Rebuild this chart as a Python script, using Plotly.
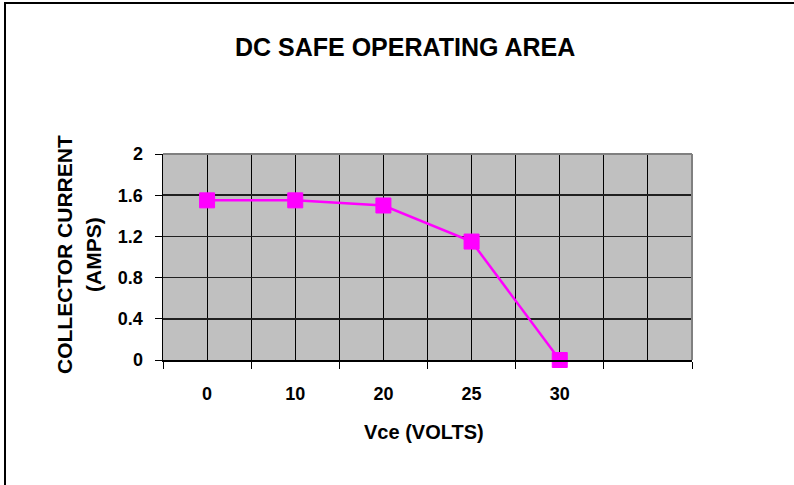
import plotly.graph_objects as go

categories = ["0", "10", "20", "25", "30"]
current = [1.55, 1.55, 1.5, 1.15, 0.0]
y_ticks = [0, 0.4, 0.8, 1.2, 1.6, 2]
y_tick_labels = ["0", "0.4", "0.8", "1.2", "1.6", "2"]
n_slots = 6  # category slots on the axis (last one empty)

FONT = "Liberation Sans, Arial, sans-serif"
W, H = 794, 485
L, T = 163, 154
R = W - 692
B = H - 360
pw, ph = W - L - R, H - T - B

def px(x):
    return (x - L) / pw

def py(y):
    return (H - B - y) / ph

idx = list(range(len(categories)))
fig = go.Figure()
fig.add_trace(go.Scatter(
    x=idx, y=current, mode="lines+markers",
    line=dict(color="#FF00FF", width=2.5),
    marker=dict(symbol="square", size=15, color="#FF00FF",
                line=dict(color="#FF00FF", width=1)),
    cliponaxis=False, showlegend=False, hoverinfo="skip",
))

fig.update_layout(
    width=W, height=H,
    margin=dict(l=L, r=R, t=T, b=B, pad=0),
    paper_bgcolor="white", plot_bgcolor="#C0C0C0",
    font=dict(family=FONT, color="black"),
    xaxis=dict(
        range=[-0.5, n_slots - 0.5],
        tickmode="array",
        tickvals=list(range(n_slots)),
        ticktext=categories + [""],
        ticks="outside", ticklen=7, tickcolor="rgba(0,0,0,0)",
        ticklabelstandoff=10,
        tickfont=dict(size=18, weight="bold", family=FONT),
        showgrid=True, gridcolor="black", gridwidth=1,
        showline=True, linecolor="black", linewidth=1.5,
        zeroline=False,
        minor=dict(tick0=-0.5, dtick=1, ticks="outside", ticklen=7,
                   tickcolor="black", tickwidth=1,
                   showgrid=True, gridcolor="black", gridwidth=1),
        fixedrange=True,
    ),
    yaxis=dict(
        range=[0, 2],
        tickmode="array", tickvals=y_ticks, ticktext=y_tick_labels,
        ticks="outside", ticklen=7, tickcolor="black", tickwidth=1,
        ticklabelstandoff=8,
        tickfont=dict(size=18, weight="bold", family=FONT),
        showgrid=True, gridcolor="#202020", gridwidth=1.5,
        showline=True, linecolor="black", linewidth=1.5,
        zeroline=False, fixedrange=True,
    ),
    shapes=[
        dict(type="line", xref="paper", yref="paper", x0=0, x1=1, y0=1, y1=1,
             line=dict(color="#808080", width=2), layer="above"),
        dict(type="line", xref="paper", yref="paper", x0=1, x1=1, y0=0, y1=1,
             line=dict(color="#808080", width=2), layer="above"),
        dict(type="rect", xref="paper", yref="paper",
             x0=px(5), x1=px(830), y0=py(510), y1=py(3),
             line=dict(color="black", width=2), layer="below"),
    ],
    annotations=[
        dict(text="<b>DC SAFE OPERATING AREA</b>", xref="paper", yref="paper",
             x=px(404.5), y=py(47), xanchor="center", yanchor="middle",
             showarrow=False, font=dict(size=25, family=FONT, color="black")),
        dict(text="<b>Vce (VOLTS)</b>", xref="paper", yref="paper",
             x=px(423.5), y=py(432), xanchor="center", yanchor="middle",
             showarrow=False, font=dict(size=20, family=FONT, color="black")),
        dict(text="<b>COLLECTOR CURRENT</b>", xref="paper", yref="paper",
             x=px(64), y=py(255), xanchor="center", yanchor="middle",
             textangle=-90, showarrow=False,
             font=dict(size=21, family=FONT, color="black")),
        dict(text="<b>(AMPS)</b>", xref="paper", yref="paper",
             x=px(93), y=py(255), xanchor="center", yanchor="middle",
             textangle=-90, showarrow=False,
             font=dict(size=21, family=FONT, color="black")),
    ],
)

fig.write_html(
    "out.html",
    config={"displayModeBar": False, "staticPlot": True},
    post_script="document.body.style.margin='0';document.body.style.overflow='hidden';",
)
